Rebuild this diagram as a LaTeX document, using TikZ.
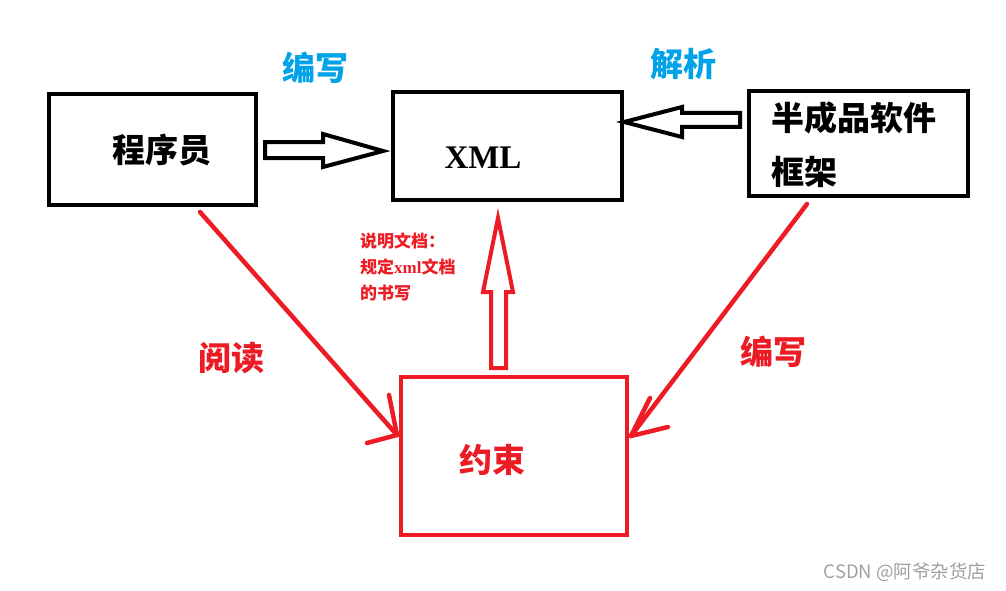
\documentclass[tikz,border=0pt]{standalone}
\usepackage{fontspec}
\setmainfont{Liberation Serif}
\newfontfamily\cjk{Noto Sans CJK SC}
\definecolor{pred}{HTML}{ED1C24}
\definecolor{pblue}{HTML}{00A2E8}
\definecolor{wgray}{HTML}{A0A0A0}
\begin{document}
\begin{tikzpicture}[x=1pt,y=-1pt,
  box/.style={draw=black,line width=4pt,minimum width=#1,inner sep=0pt},
  rbox/.style={draw=pred,line width=4pt,inner sep=0pt},
  big/.style={font=\cjk\bfseries\fontsize{33}{33}\selectfont,inner sep=0pt},
  small/.style={font=\cjk\bfseries\fontsize{17}{17}\selectfont,text=pred,inner sep=0pt,anchor=west},
  blk/.style={draw=black,line width=4pt,line join=miter,fill=white},
  rline/.style={draw=pred,line width=4.5pt,line cap=round}]
\useasboundingbox (0,0) rectangle (1006,591);
% boxes
\node[box=207,minimum height=111] (prog) at (152.5,149.5) {};
\node[box=229,minimum height=108] (xml) at (507.5,146) {};
\node[box=219,minimum height=105] (frame) at (858.5,143.5) {};
\node[rbox,minimum width=226,minimum height=158] (cons) at (514,456) {};
% box texts
\node[big] (tprog) at (162,150) {程序员};
\node[font=\bfseries\fontsize{33}{33}\selectfont,inner sep=0pt] (txml) at (483,158) {XML};
\node[big,anchor=west] (tf1) at (771,118) {半成品软件};
\node[big,anchor=west] (tf2) at (771,172) {框架};
\node[big,text=pred] (tcons) at (492,460) {约束};
% labels
\node[big,text=pblue] (lw1) at (315,68) {编写};
\node[big,text=pblue] (lparse) at (683,64) {解析};
\node[big,text=pred] (lread) at (231,358) {阅读};
\node[big,text=pred] (lw2) at (773,352) {编写};
\node[small] (d1) at (360,241) {说明文档：};
\node[small] (d2) at (360,267) {规定{\rmfamily\bfseries xml}文档};
\node[small] (d3) at (360,293) {的书写};
\node[font=\cjk\fontsize{18.5}{18.5}\selectfont,text=wgray,inner sep=0pt] (wm) at (905,572) {CSDN @阿爷杂货店};
% block arrow right: prog -> xml
\draw[blk] (265,142) -- (323,142) -- (323,134) -- (383,151) -- (323,167) -- (323,158) -- (265,158) -- cycle;
% block arrow left: frame -> xml
\draw[blk] (740,113) -- (682,113) -- (682,107) -- (624,122) -- (682,137) -- (682,127) -- (740,127) -- cycle;
% red block arrow up: cons -> xml
\draw[draw=pred,line width=4pt,line join=miter,fill=white] (491,368) -- (491,292) -- (483,292) -- (498,218) -- (513,292) -- (506,292) -- (506,368) -- cycle;
% red line arrows
\coordinate (s1) at (200,212);
\coordinate (t1) at (397,435);
\coordinate (s2) at (807,204);
\coordinate (t2) at (631,436);
\draw[rline] (s1) -- (t1);
\draw[rline] (t1) -- (389,395);
\draw[rline] (t1) -- (367,443);
\draw[rline] (s2) -- (t2);
\draw[rline] (t2) -- (650,398);
\draw[rline] (t2) -- (668,427);
\end{tikzpicture}
\end{document}
